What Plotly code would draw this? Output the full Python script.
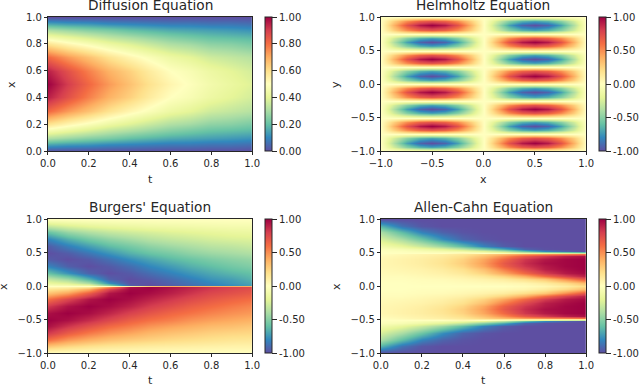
import plotly.graph_objects as go

W, H = 640, 385

spectral_r = [
    [0.0, '#5e4fa2'], [0.1, '#3288bd'], [0.2, '#66c2a5'], [0.3, '#abdda4'],
    [0.4, '#e6f598'], [0.5, '#ffffbf'], [0.6, '#fee08b'], [0.7, '#fdae61'],
    [0.8, '#f46d43'], [0.9, '#d53e4f'], [1.0, '#9e0142'],
]

t_grid = [0.0, 0.1, 0.2, 0.3, 0.4, 0.5, 0.6, 0.7, 0.8, 0.9, 1.0]

# Diffusion
diff_x = [0.0, 0.05, 0.1, 0.15, 0.2, 0.3, 0.4, 0.5, 0.6, 0.7, 0.8, 0.85, 0.9, 0.95, 1.0]
diff_z = [
    [0.00, 0.00, 0.00, 0.00, 0.00, 0.00, 0.00, 0.00, 0.00, 0.00, 0.00],
    [0.16, 0.14, 0.13, 0.11, 0.10, 0.09, 0.08, 0.08, 0.07, 0.07, 0.06],
    [0.31, 0.28, 0.25, 0.23, 0.20, 0.18, 0.16, 0.15, 0.14, 0.13, 0.12],
    [0.45, 0.41, 0.37, 0.33, 0.30, 0.27, 0.24, 0.22, 0.20, 0.19, 0.18],
    [0.59, 0.53, 0.48, 0.43, 0.39, 0.35, 0.31, 0.29, 0.26, 0.25, 0.23],
    [0.81, 0.73, 0.66, 0.59, 0.53, 0.48, 0.43, 0.40, 0.36, 0.34, 0.32],
    [0.95, 0.86, 0.77, 0.69, 0.63, 0.56, 0.50, 0.47, 0.43, 0.40, 0.37],
    [1.00, 0.90, 0.81, 0.73, 0.66, 0.59, 0.53, 0.49, 0.45, 0.42, 0.39],
    [0.95, 0.86, 0.77, 0.69, 0.63, 0.56, 0.50, 0.47, 0.43, 0.40, 0.37],
    [0.81, 0.73, 0.66, 0.59, 0.53, 0.48, 0.43, 0.40, 0.36, 0.34, 0.32],
    [0.59, 0.53, 0.48, 0.43, 0.39, 0.35, 0.31, 0.29, 0.26, 0.25, 0.23],
    [0.45, 0.41, 0.37, 0.33, 0.30, 0.27, 0.24, 0.22, 0.20, 0.19, 0.18],
    [0.31, 0.28, 0.25, 0.23, 0.20, 0.18, 0.16, 0.15, 0.14, 0.13, 0.12],
    [0.16, 0.14, 0.13, 0.11, 0.10, 0.09, 0.08, 0.08, 0.07, 0.07, 0.06],
    [0.00, 0.00, 0.00, 0.00, 0.00, 0.00, 0.00, 0.00, 0.00, 0.00, 0.00],
]

# Helmholtz: the rows repeat every half unit of y
helm_x = [-1.0, -0.875, -0.75, -0.625, -0.5, -0.375, -0.25, -0.125, 0.0,
          0.125, 0.25, 0.375, 0.5, 0.625, 0.75, 0.875, 1.0]
helm_y = [-1.0, -0.9375, -0.875, -0.8125, -0.75, -0.6875, -0.625, -0.5625, -0.5,
          -0.4375, -0.375, -0.3125, -0.25, -0.1875, -0.125, -0.0625, 0.0,
          0.0625, 0.125, 0.1875, 0.25, 0.3125, 0.375, 0.4375, 0.5,
          0.5625, 0.625, 0.6875, 0.75, 0.8125, 0.875, 0.9375, 1.0]
h_0 = [0, 0, 0, 0, 0, 0, 0, 0, 0, 0, 0, 0, 0, 0, 0, 0, 0]
h_a = [0, -0.27, -0.50, -0.65, -0.71, -0.65, -0.50, -0.27, 0, 0.27, 0.50, 0.65, 0.71, 0.65, 0.50, 0.27, 0]
h_b = [0, -0.38, -0.71, -0.92, -1.00, -0.92, -0.71, -0.38, 0, 0.38, 0.71, 0.92, 1.00, 0.92, 0.71, 0.38, 0]
h_c = [0, 0.27, 0.50, 0.65, 0.71, 0.65, 0.50, 0.27, 0, -0.27, -0.50, -0.65, -0.71, -0.65, -0.50, -0.27, 0]
h_d = [0, 0.38, 0.71, 0.92, 1.00, 0.92, 0.71, 0.38, 0, -0.38, -0.71, -0.92, -1.00, -0.92, -0.71, -0.38, 0]
helm_z = [
    h_0, h_a, h_b, h_a, h_0, h_c, h_d, h_c,
    h_0, h_a, h_b, h_a, h_0, h_c, h_d, h_c,
    h_0, h_a, h_b, h_a, h_0, h_c, h_d, h_c,
    h_0, h_a, h_b, h_a, h_0, h_c, h_d, h_c,
    h_0,
]

# Burgers
burg_x = [-1.0, -0.9, -0.8, -0.7, -0.6, -0.5, -0.4, -0.3, -0.2, -0.1, -0.05, -0.02, 0.0,
          0.02, 0.05, 0.1, 0.2, 0.3, 0.4, 0.5, 0.6, 0.7, 0.8, 0.9, 1.0]
burg_z = [
    [0.00, 0.00, 0.00, 0.00, 0.00, 0.00, 0.00, 0.00, 0.00, 0.00, 0.00],
    [0.31, 0.24, 0.19, 0.16, 0.14, 0.12, 0.11, 0.10, 0.09, 0.08, 0.08],
    [0.59, 0.46, 0.38, 0.32, 0.28, 0.25, 0.22, 0.20, 0.18, 0.16, 0.15],
    [0.81, 0.67, 0.56, 0.48, 0.42, 0.36, 0.32, 0.29, 0.26, 0.24, 0.23],
    [0.95, 0.83, 0.72, 0.62, 0.55, 0.48, 0.43, 0.39, 0.35, 0.33, 0.30],
    [1.00, 0.95, 0.86, 0.76, 0.66, 0.59, 0.54, 0.48, 0.44, 0.41, 0.38],
    [0.95, 1.00, 0.96, 0.88, 0.78, 0.70, 0.63, 0.58, 0.53, 0.49, 0.46],
    [0.81, 0.94, 1.00, 0.96, 0.89, 0.80, 0.73, 0.66, 0.61, 0.56, 0.52],
    [0.59, 0.76, 0.93, 1.00, 0.96, 0.89, 0.82, 0.75, 0.69, 0.64, 0.60],
    [0.31, 0.43, 0.66, 0.93, 1.00, 0.96, 0.90, 0.83, 0.76, 0.72, 0.68],
    [0.16, 0.22, 0.39, 0.77, 0.98, 0.99, 0.93, 0.87, 0.81, 0.76, 0.72],
    [0.06, 0.09, 0.16, 0.52, 0.95, 1.00, 0.95, 0.89, 0.83, 0.78, 0.74],
    [0.00, 0.00, 0.00, 0.00, 0.10, 0.30, 0.40, 0.40, 0.40, 0.40, 0.40],
    [-0.06, -0.09, -0.16, -0.52, -0.95, -1.00, -0.95, -0.89, -0.83, -0.78, -0.72],
    [-0.16, -0.22, -0.39, -0.77, -0.98, -0.99, -0.93, -0.87, -0.81, -0.75, -0.70],
    [-0.31, -0.43, -0.66, -0.93, -1.00, -0.96, -0.90, -0.83, -0.76, -0.72, -0.65],
    [-0.59, -0.76, -0.93, -1.00, -0.96, -0.89, -0.82, -0.75, -0.69, -0.64, -0.60],
    [-0.81, -0.94, -1.00, -0.96, -0.89, -0.80, -0.73, -0.66, -0.61, -0.56, -0.52],
    [-0.95, -1.00, -0.96, -0.88, -0.78, -0.70, -0.63, -0.58, -0.53, -0.49, -0.46],
    [-1.00, -0.95, -0.86, -0.76, -0.66, -0.59, -0.54, -0.48, -0.44, -0.41, -0.38],
    [-0.95, -0.83, -0.72, -0.62, -0.55, -0.48, -0.43, -0.39, -0.35, -0.33, -0.30],
    [-0.81, -0.67, -0.56, -0.48, -0.42, -0.36, -0.32, -0.29, -0.26, -0.24, -0.23],
    [-0.59, -0.46, -0.38, -0.32, -0.28, -0.25, -0.22, -0.20, -0.18, -0.16, -0.15],
    [-0.31, -0.24, -0.19, -0.16, -0.14, -0.12, -0.11, -0.10, -0.09, -0.08, -0.08],
    [0.00, 0.00, 0.00, 0.00, 0.00, 0.00, 0.00, 0.00, 0.00, 0.00, 0.00],
]

# Allen-Cahn, x from 0 upward; the lower half mirrors it
ac_x_upper = [0.0, 0.05, 0.1, 0.15, 0.2, 0.25, 0.3, 0.35, 0.4, 0.45, 0.48, 0.5,
              0.52, 0.55, 0.6, 0.7, 0.8, 0.9, 1.0]
ac_z_upper = [
    [0.00, 0.00, 0.00, 0.00, 0.00, 0.00, 0.00, 0.02, 0.05, 0.12, 0.22],
    [0.00, 0.00, 0.01, 0.01, 0.02, 0.03, 0.04, 0.06, 0.12, 0.22, 0.35],
    [0.01, 0.01, 0.02, 0.03, 0.05, 0.08, 0.12, 0.20, 0.30, 0.50, 0.70],
    [0.02, 0.02, 0.04, 0.06, 0.09, 0.15, 0.25, 0.40, 0.60, 0.78, 0.90],
    [0.03, 0.04, 0.06, 0.09, 0.14, 0.25, 0.42, 0.62, 0.80, 0.92, 0.97],
    [0.04, 0.06, 0.08, 0.12, 0.19, 0.33, 0.55, 0.75, 0.90, 0.96, 1.00],
    [0.05, 0.07, 0.10, 0.15, 0.24, 0.42, 0.65, 0.82, 0.92, 0.98, 1.00],
    [0.05, 0.08, 0.11, 0.17, 0.27, 0.45, 0.68, 0.85, 0.95, 0.98, 1.00],
    [0.05, 0.08, 0.11, 0.16, 0.25, 0.42, 0.62, 0.82, 0.92, 0.98, 1.00],
    [0.03, 0.06, 0.09, 0.13, 0.20, 0.33, 0.50, 0.68, 0.80, 0.90, 0.95],
    [0.01, 0.04, 0.07, 0.10, 0.15, 0.25, 0.35, 0.45, 0.50, 0.55, 0.60],
    [0.00, 0.00, 0.00, 0.00, 0.05, 0.00, -0.05, -0.15, -0.20, -0.25, -0.30],
    [-0.01, -0.02, -0.05, -0.08, -0.12, -0.20, -0.35, -0.60, -0.80, -0.92, -1.00],
    [-0.03, -0.06, -0.12, -0.20, -0.32, -0.50, -0.68, -0.92, -0.99, -1.00, -1.00],
    [-0.10, -0.18, -0.30, -0.45, -0.62, -0.82, -0.95, -1.00, -1.00, -1.00, -1.00],
    [-0.25, -0.40, -0.58, -0.78, -0.92, -0.98, -1.00, -1.00, -1.00, -1.00, -1.00],
    [-0.40, -0.62, -0.82, -0.93, -0.98, -1.00, -1.00, -1.00, -1.00, -1.00, -1.00],
    [-0.65, -0.87, -0.97, -1.00, -1.00, -1.00, -1.00, -1.00, -1.00, -1.00, -1.00],
    [-1.00, -1.00, -1.00, -1.00, -1.00, -1.00, -1.00, -1.00, -1.00, -1.00, -1.00],
]
ac_x_lower = [-1.0, -0.9, -0.8, -0.7, -0.6, -0.55, -0.52, -0.5, -0.48, -0.45, -0.4,
              -0.35, -0.3, -0.25, -0.2, -0.15, -0.1, -0.05]
ac_x = ac_x_lower + ac_x_upper
ac_z = ac_z_upper[:0:-1] + ac_z_upper

unit_ticks = [0.0, 0.2, 0.4, 0.6, 0.8, 1.0]
half_ticks = [-1.0, -0.5, 0.0, 0.5, 1.0]
unit_cbar = [0.0, 0.2, 0.4, 0.6, 0.8, 1.0]
unit_cbar_text = ['0.00', '0.20', '0.40', '0.60', '0.80', '1.00']
sym_cbar = [-1.0, -0.5, 0.0, 0.5, 1.0]
sym_cbar_text = ['-1.00', '-0.50', '0.00', '0.50', '1.00']

FONT = 'DejaVu Sans'
INK = '#262626'

panels = [
    dict(title='Diffusion Equation', xlabel='t', ylabel='x', x=t_grid, y=diff_x, z=diff_z,
         zmin=0, zmax=1, xt=unit_ticks, yt=unit_ticks, ct=unit_cbar, cl=unit_cbar_text,
         box=(48, 253, 17, 151), cb=266, title_y=5, xl_y=180, yl_x=12),
    dict(title='Helmholtz Equation', xlabel='x', ylabel='y', x=helm_x, y=helm_y, z=helm_z,
         zmin=-1, zmax=1, xt=half_ticks, yt=half_ticks, ct=sym_cbar, cl=sym_cbar_text,
         box=(382, 588, 17, 151), cb=601, title_y=5, xl_y=180, yl_x=337),
    dict(title="Burgers' Equation", xlabel='t', ylabel='x', x=t_grid, y=burg_x, z=burg_z,
         zmin=-1, zmax=1, xt=unit_ticks, yt=half_ticks, ct=sym_cbar, cl=sym_cbar_text,
         box=(48, 253, 219, 353), cb=266, title_y=207, xl_y=380, yl_x=3),
    dict(title='Allen-Cahn Equation', xlabel='t', ylabel='x', x=t_grid, y=ac_x, z=ac_z,
         zmin=-1, zmax=1, xt=unit_ticks, yt=half_ticks, ct=sym_cbar, cl=sym_cbar_text,
         box=(382, 588, 219, 353), cb=601, title_y=207, xl_y=380, yl_x=337),
]

fig = go.Figure()
layout = dict(
    width=W, height=H,
    margin=dict(l=0, r=0, t=0, b=0),
    paper_bgcolor='white',
    plot_bgcolor='white',
    font=dict(family=FONT, size=10, color=INK),
    showlegend=False,
)
annotations = []


def note(text, px, py, size, angle=0):
    annotations.append(dict(
        text=text, x=px / W, y=1 - py / H, xref='paper', yref='paper',
        xanchor='center', yanchor='middle', showarrow=False, textangle=angle,
        font=dict(family=FONT, size=size, color=INK),
    ))


for i, p in enumerate(panels, start=1):
    left, right, top, bottom = p['box']
    suffix = '' if i == 1 else str(i)
    fig.add_trace(go.Heatmap(
        x=p['x'], y=p['y'], z=p['z'],
        xaxis=f'x{suffix}', yaxis=f'y{suffix}',
        zmin=p['zmin'], zmax=p['zmax'],
        colorscale=spectral_r, zsmooth='best',
        colorbar=dict(
            thicknessmode='pixels', thickness=7,
            lenmode='fraction', len=(bottom - top) / H,
            x=p['cb'] / W, xanchor='left', xpad=0,
            y=1 - (top + bottom) / 2 / H, yanchor='middle', ypad=0,
            tickmode='array', tickvals=p['ct'], ticktext=p['cl'],
            ticks='outside', ticklen=5, tickwidth=1, tickcolor=INK,
            outlinewidth=1, outlinecolor=INK,
            tickfont=dict(family=FONT, size=10, color=INK),
        ),
    ))
    axis = dict(showgrid=False, zeroline=False, showline=True, mirror=True,
                linecolor=INK, linewidth=1, ticks='outside', ticklen=3,
                tickwidth=1, tickcolor=INK, tickmode='array', automargin=False,
                tickfont=dict(family=FONT, size=10, color=INK))
    layout[f'xaxis{suffix}'] = dict(axis, domain=[left / W, right / W], range=[p['xt'][0], p['xt'][-1]],
                                    tickvals=p['xt'], ticktext=[f'{v:.1f}'.replace('-', '\u2212') for v in p['xt']],
                                    anchor=f'y{suffix}')
    layout[f'yaxis{suffix}'] = dict(axis, domain=[1 - bottom / H, 1 - top / H], range=[p['yt'][0], p['yt'][-1]],
                                    tickvals=p['yt'], ticktext=[f'{v:.1f}'.replace('-', '\u2212') for v in p['yt']],
                                    anchor=f'x{suffix}')
    note(p['title'], (left + right) / 2, p['title_y'], 13.7)
    note(p['xlabel'], (left + right) / 2, p['xl_y'], 11)
    note(p['ylabel'], p['yl_x'], (top + bottom) / 2, 11, angle=-90)

layout['annotations'] = annotations
fig.update_layout(**layout)
# the page's default body margin would push the figure 8px in and clip it
fig.write_html("out.html", config={'displayModeBar': False},
               post_script="document.body.style.margin='0';document.documentElement.style.overflow='hidden';")
